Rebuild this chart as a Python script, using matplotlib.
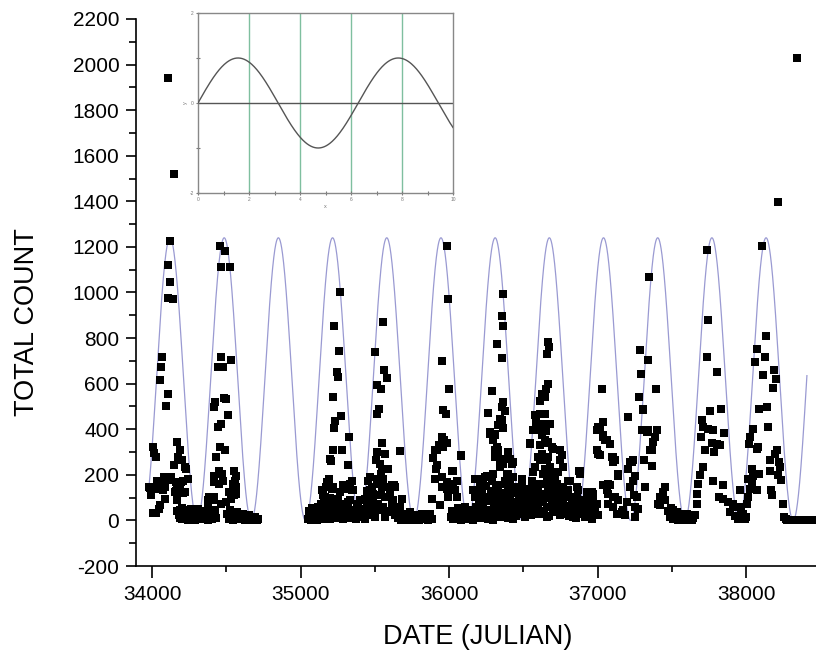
import numpy as np
import matplotlib
matplotlib.use("Agg")
import matplotlib.pyplot as plt
from matplotlib.ticker import MultipleLocator

plt.rcParams['font.family'] = ['Liberation Sans', 'DejaVu Sans']
plt.rcParams['axes.unicode_minus'] = False

# ---------------- data (Julian date, total count) ----------------
season1 = [(34121,1225),(34110,1121),(34121,1048),(34110,975),(34139,970),
    (34065,715),(34059,675),(34054,617),(34110,556),(34094,500),
    (34005,320),(34013,295),(34027,280),(34166,345),(34189,307),(34178,278),(34145,241),(34200,263),(34222,234),(34230,227),
    (33978,146),(33995,110),(34031,175),(34065,161),(34088,146),(34031,146),(34058,139),
    (34128,190),(34161,168),(34189,154),(34211,175),(34245,183),(34222,124),(34155,124),
    (34088,95),(34054,66),(34009,32),(34166,88),(34079,190),(34105,178),(34170,164),(34195,168),(34039,172),
    (33984,143),(34043,139),(34073,132),(34158,129),(34206,120),(34045,51),(34025,32),
    (34170,40),(34180,25),(34190,10),(34198,30),(34205,5),(34215,20),(34225,45),(34235,12),(34245,2),(34252,28),
    (34262,8),(34270,35),(34280,15),(34290,3),(34298,22),(34308,50),(34316,10),(34325,30),(34333,5),(34342,18),
    (34350,40),(34360,8),(34368,25),(34378,3),(34386,15),(34395,32),(34404,6),(34412,20),(34422,45),(34430,10),
    (34185,45),(34200,55),(34212,38),(34240,30),(34260,50),(34285,40),(34300,35),(34320,20),(34355,25),(34375,35),(34400,25)]

season2 = [(34458,1206),(34492,1184),(34462,1114),(34523,1111),(34462,719),(34478,672),(34530,702),(34445,672),
    (34424,519),(34415,497),(34498,534),(34462,421),(34512,461),(34455,322),(34489,310),(34433,278),(34487,538),(34442,412),
    (34449,219),(34420,197),(34471,205),(34554,219),(34566,197),(34420,168),(34453,161),(34480,172),(34543,161),(34561,175),
    (34543,139),(34517,124),(34566,117),(34386,102),(34409,88),(34375,73),(34465,73),(34498,80),(34532,95),
    (34566,146),(34420,102),(34379,88),(34530,117),(34555,110),
    (34505,30),(34515,8),(34525,45),(34535,15),(34545,2),(34555,25),(34565,10),(34575,38),(34585,5),(34595,20),
    (34605,12),(34615,30),(34625,3),(34635,18),(34645,8),(34655,25),(34665,4),(34675,12),(34685,6),(34695,15),
    (34705,3),(34712,8)]

season4 = [(35266,1001),(35226,851),(35261,743),(35248,650),(35255,629),(35221,541),(35271,456),(35232,435),(35226,406),
    (35329,368),(35217,310),(35277,310),(35199,271),(35205,260),(35322,241),
    (35194,183),(35172,146),(35143,132),(35154,110),(35187,88),(35221,146),(35266,124),(35300,139),(35333,161),(35345,132),
    (35176,168),(35210,139),(35165,102),(35288,154),(35311,139),(35345,175),(35356,132),(35244,58),(35288,73),(35333,88),
    (35378,58),(35446,73),(35457,175),
    (35048,5),(35058,20),(35068,3),(35078,12),(35088,30),(35098,8),(35108,2),(35118,18),(35128,40),(35138,10),
    (35148,25),(35158,5),(35168,50),(35178,15),(35188,35),(35198,8),(35208,60),(35218,20),(35228,45),(35238,10),
    (35250,30),(35262,15),(35274,40),(35286,5),(35300,25),(35315,50),(35330,12),(35345,35),(35360,20),(35375,8),
    (35390,30),(35405,15),(35420,45),(35435,5),(35450,22),
    (35055,40),(35075,55),(35095,35),(35115,60),(35135,70),(35160,80),(35180,65),(35200,100),(35235,85),(35255,95),
    (35280,25),(35295,60),(35320,80),(35340,10),(35365,45),(35385,70),(35400,90),(35415,25),(35430,50)]

season5 = [(35553,870),(35502,738),(35562,658),(35584,626),(35513,592),(35540,578),(35531,490),(35513,468),(35547,339),
    (35513,300),(35569,293),(35670,304),(35508,263),(35569,227),(35540,205),(35524,183),(35513,161),(35547,146),(35580,146),
    (35630,154),(35468,132),(35490,102),(35524,73),(35580,102),(35625,88),(35434,95),(35457,58),(35401,44),(35670,58),(35692,29),
    (35468,190),(35479,146),(35446,102),(35490,117),(35502,37),(35535,249),(35547,227),(35591,227),(35558,183),(35614,154),
    (35636,146),(35569,102),(35614,73),(35648,58),(35681,95),(35603,37),(35636,22),(35569,15),
    (35655,10),(35665,30),(35675,3),(35685,18),(35695,8),(35705,25),(35715,2),(35725,12),(35735,35),(35745,5),
    (35755,15),(35765,3),(35775,22),(35785,8),(35795,2),(35805,14),(35815,28),(35825,5),(35835,10),(35845,20),
    (35855,4),(35865,12),(35875,30),(35885,8),
    (35445,130),(35462,30),(35475,80),(35485,55),(35500,15),(35520,45),(35540,110),(35555,60),(35575,40),(35600,110),
    (35620,50),(35640,35),(35660,45)]

season6 = [(35989,1202),(35995,972),(35951,699),(36002,578),(35962,485),(35980,468),(35951,358),(35962,322),(35906,307),
    (36079,285),(36018,219),(35955,368),(35968,351),(35933,329),(35985,339),(35917,310),(35894,275),(36081,281),(35917,241),
    (35911,227),(36029,219),(35906,183),(35951,190),(35985,168),(36029,161),(36052,175),(35951,146),(35985,139),(36040,132),
    (35884,95),(35939,66),(35995,102),(36052,102),(36175,183),(36209,161),
    (36010,15),(36020,40),(36030,5),(36040,25),(36050,10),(36060,55),(36070,20),(36080,3),(36090,35),(36100,12),
    (36110,60),(36120,8),(36130,28),(36140,45),(36150,15),(36160,2),(36170,30),
    (36185,20),(36195,45),(36215,10),(36240,25),(36260,5)]

season7 = [(36366,994),(36355,899),(36361,851),(36325,775),(36355,714),(36288,567),(36366,519),(36355,497),(36377,479),
    (36265,471),(36276,380),(36310,380),(36355,442),(36361,407),(36343,446),(36332,417),
    (36310,310),(36332,293),(36366,271),(36400,285),(36422,249),(36343,234),(36388,205),(36433,190),(36377,161),(36400,146),
    (36467,146),(36298,205),(36242,190),(36276,197),(36209,161),(36164,132),(36175,102),(36231,73),(36288,102),(36343,117),
    (36411,102),(36490,175),(36478,124),
    (36276,387),(36310,373),(36298,351),(36321,322),(36332,307),(36310,278),(36343,263),(36366,249),(36400,300),(36411,271),
    (36433,256),(36254,197),(36231,183),(36288,175),(36332,154),(36377,175),(36400,205),(36411,154),(36422,132),
    (36456,139),(36490,183),(36220,117),(36254,102),(36298,88),(36343,102),(36377,88),(36433,80),(36478,102),(36523,110),
    (36557,124),(36591,117),(36231,58),(36276,44),(36332,51),(36388,29),(36444,37),(36500,58),(36545,44),(36601,51),
    (36343,15),(36433,7),(36512,15),(36298,3),
    (36180,60),(36200,95),(36215,130),(36235,20),(36250,150),(36265,85),(36282,130),(36290,30),(36305,60),(36318,140),
    (36322,20),(36350,75),(36358,40),(36372,120),(36385,60),(36395,10),(36405,90),(36418,40),(36428,120),(36440,75),
    (36450,20),(36462,60),(36470,95),(36485,30),(36495,140),(36505,80),(36518,40),(36530,75),(36540,140),(36552,25)]

season8 = [(36665,782),(36676,760),(36662,731),(36669,600),(36653,578),(36624,556),(36646,541),(36613,526),
    (36579,461),(36613,465),(36586,431),(36635,421),(36602,395),(36653,392),(36624,373),
    (36545,339),(36658,339),(36703,314),(36748,307),(36624,293),(36669,278),(36613,263),(36579,234),(36646,227),(36680,205),
    (36748,263),(36770,234),(36714,183),(36557,175),(36602,146),(36669,146),(36725,161),(36770,146),(36804,175),(36545,117),
    (36635,117),(36703,102),(36748,117),(36815,102),(36871,132),(36882,205),
    (36646,468),(36680,424),(36568,395),(36624,387),(36646,351),(36669,343),(36613,329),(36691,322),(36759,285),(36545,336),
    (36601,278),(36658,263),(36680,234),(36635,205),(36691,205),(36736,212),(36568,212),(36591,161),(36658,175),(36714,161),
    (36770,139),(36815,175),(36860,146),(36882,219),(36803,132),
    (36613,117),(36680,110),(36725,102),(36793,117),(36860,102),(36927,124),(36972,117),(36601,73),(36669,58),(36736,73),
    (36803,51),(36871,66),(36927,44),(36983,58),(36658,15),(36748,22),(36837,15),(36905,29),(36961,7),(37006,22),
    (36565,90),(36575,60),(36585,30),(36595,90),(36610,40),(36620,160),(36630,80),(36640,30),(36650,100),(36662,60),
    (36675,20),(36690,80),(36700,45),(36712,130),(36720,35),(36732,95),(36742,60),(36755,40),(36765,80),(36780,30),
    (36790,65),(36810,20),(36825,70),(36845,40),(36855,10),(36870,30),(36890,55),(36900,90),(36915,15),(36935,30),
    (36950,100),(36975,40)]

season9 = [(37028,578),(37006,409),(37039,431),(37035,373),(37062,351),(36995,307),(37006,293),(37107,278),(37118,263),
    (36877,219),(36995,395),(37040,365),(37140,205),(37039,154),(37073,161),(37062,132),(37107,102),(37140,88),(37174,44),
    (37129,29),(36961,124),(36972,88),(36995,73),(36938,66),
    (37207,453),(37230,256),(37252,197),(37207,227),(37241,175),(37219,146),(37264,102),(37196,80),(37252,58),
    (37017,402),(37050,351),(37084,336),(37017,285),(37096,278),(37107,256),(37136,197),(37253,193),
    (37084,154),(37073,117),(37118,102),(37073,73),(37107,58),(37163,37),(37185,22),
    (37248,110),(37271,51),(37253,15),(37219,256)]

season10 = [(37349,1067),(37286,746),(37342,702),(37291,643),(37280,541),(37304,490),(37309,485),(37297,395),(37342,398),
    (37398,395),(37387,365),(37376,343),(37394,578),(37331,387),(37354,307),(37316,263),(37370,237),
    (37320,146),(37365,307),(37241,263),(37421,102),(37443,124),(37410,73),(37455,146),(37455,88),(37421,66),
    (37511,44),(37533,29),(37567,29),(37601,29),(37645,22),
    (37475,40),(37485,15),(37495,55),(37505,5),(37515,25),(37525,10),(37535,35),(37545,3),(37555,18),(37565,8),
    (37575,30),(37585,12),(37595,2),(37605,20),(37615,6),(37625,15),(37635,3),(37645,10),(37655,25)]

season11 = [(37735,1187),(37746,880),(37735,716),(37803,650),(37758,482),(37830,490),
    (37702,439),(37713,409),(37747,402),(37776,395),(37852,383),(37697,365),
    (37769,339),(37802,336),(37825,333),(37724,310),(37784,300),(37713,234),(37780,175),(37843,154),
    (37818,102),(37845,95),(37878,80),(37912,73),(37935,58),(37890,37),(37957,58),(37980,29),(38002,15),(37957,132),
    (37679,161),(37668,117),(37668,73),(37690,200),
    (37925,20),(37945,8),(37965,35),(37990,5)]

season12 = [(38106,1206),(38135,811),(38072,753),(38128,716),(38061,694),(38117,636),(38189,658),(38202,621),(38180,582),
    (38089,490),(38139,497),(38150,412),(38049,402),(38022,336),(38076,314),(38027,365),(38083,322),
    (38005,73),(38015,102),(38027,139),(38038,168),(38045,197),(38038,227),(38089,202),(38049,205),(38015,183),
    (38072,132),(38162,263),(38196,293),(38225,256),(38229,234),(38162,219),(38234,178),(38167,135),(38251,73),
    (38207,307),(38218,200),(38173,110),
    (38258,15),(38266,8),(38274,4),(38282,2),(38290,0),(38298,0),(38306,0),(38314,0),(38322,0),(38330,0),
    (38338,0),(38346,0),(38354,0),(38362,0),(38370,0),(38378,0),(38386,0),(38394,0),(38402,0),(38410,0),
    (38418,0),(38426,0),(38434,0),(38442,0),(38450,0),(38458,0),(38466,0)]

outliers = [(34105,1943),(34148,1522),(38216,1399),(38343,2031)]

# seasonal model fitted to the counts (annual cosine)
fit_mean = 620.0
fit_amplitude = 620.0
fit_period = 364.9
fit_peak_date = 34121.0
fit_start, fit_end = 33980, 38410

# inset: y = sin(x), x from 0 to 10
inset_x_range = (0, 10)

x_ticks = [34000, 35000, 36000, 37000, 38000]
y_ticks = list(range(-200, 2201, 200))

# ---------------- figure ----------------
fig = plt.figure(figsize=(8.16, 6.5), dpi=100)
ax = fig.add_axes([136/816, 84/650, 680/816, 547/650])

all_pts = season1 + season2 + season4 + season5 + season6 + season7 + season8 + season9 + season10 + season11 + season12 + outliers
dates = np.array([p[0] for p in all_pts], dtype=float)
counts = np.array([p[1] for p in all_pts], dtype=float)

fit_dates = np.arange(fit_start, fit_end + 1, 1.0)
fit_counts = fit_mean + fit_amplitude * np.cos(2 * np.pi * (fit_dates - fit_peak_date) / fit_period)
ax.plot(fit_dates, fit_counts, color='#9a9ad2', lw=0.9, zorder=1)
ax.plot(dates, counts, 's', color='black', ms=5.6, mew=0, zorder=2)

ax.set_xlim(33892, 33892 + 680 / 0.1485)
ax.set_ylim(-200, 2200)
ax.set_xticks(x_ticks)
ax.xaxis.set_minor_locator(MultipleLocator(500))
ax.set_yticks(y_ticks)
ax.yaxis.set_minor_locator(MultipleLocator(100))
ax.tick_params(axis='x', which='major', direction='out', length=8.5, width=1.2, labelsize=15, pad=5)
ax.tick_params(axis='x', which='minor', direction='out', length=4.5, width=1.2)
ax.tick_params(axis='y', which='major', direction='out', length=7, width=1.2, labelsize=15, pad=5)
ax.tick_params(axis='y', which='minor', direction='out', length=5, width=1.2)
for s in ['top', 'right']:
    ax.spines[s].set_visible(False)
for s in ['left', 'bottom']:
    ax.spines[s].set_linewidth(1.2)

fig.text(27/816, 1 - 322/650, 'TOTAL COUNT', rotation=90, ha='center', va='center', fontsize=19.5)
fig.text(478/816, 1 - 637/650, 'DATE (JULIAN)', ha='center', va='center', fontsize=19.5)

# ---------------- inset ----------------
ins = fig.add_axes([198/816, 1 - 193/650, 255/816, 180/650])
ix = np.linspace(inset_x_range[0], inset_x_range[1], 400)
for gx in [2, 4, 6, 8]:
    ins.axvline(gx, color='#7fbf9f', lw=1.0, zorder=1)
ins.axhline(0, color='#555555', lw=1.0, zorder=2)
ins.plot(ix, np.sin(ix), color='#555555', lw=1.0, zorder=3)
ins.set_xlim(0, 10)
ins.set_ylim(-2, 2)
ins.set_xticks([0, 2, 4, 6, 8, 10])
ins.xaxis.set_minor_locator(MultipleLocator(1))
ins.set_yticks([-2, 0, 2])
ins.yaxis.set_minor_locator(MultipleLocator(1))
ins.tick_params(which='both', direction='inout', length=3, width=0.8, colors='#777777', labelsize=3.5, pad=1.5)
for s in ins.spines.values():
    s.set_color('#888888')
    s.set_linewidth(1.0)
ins.set_xlabel('x', fontsize=4, color='#777777', labelpad=1)
ins.set_ylabel('y', fontsize=4, color='#777777', labelpad=1)

fig.savefig('out.png', dpi=100)
